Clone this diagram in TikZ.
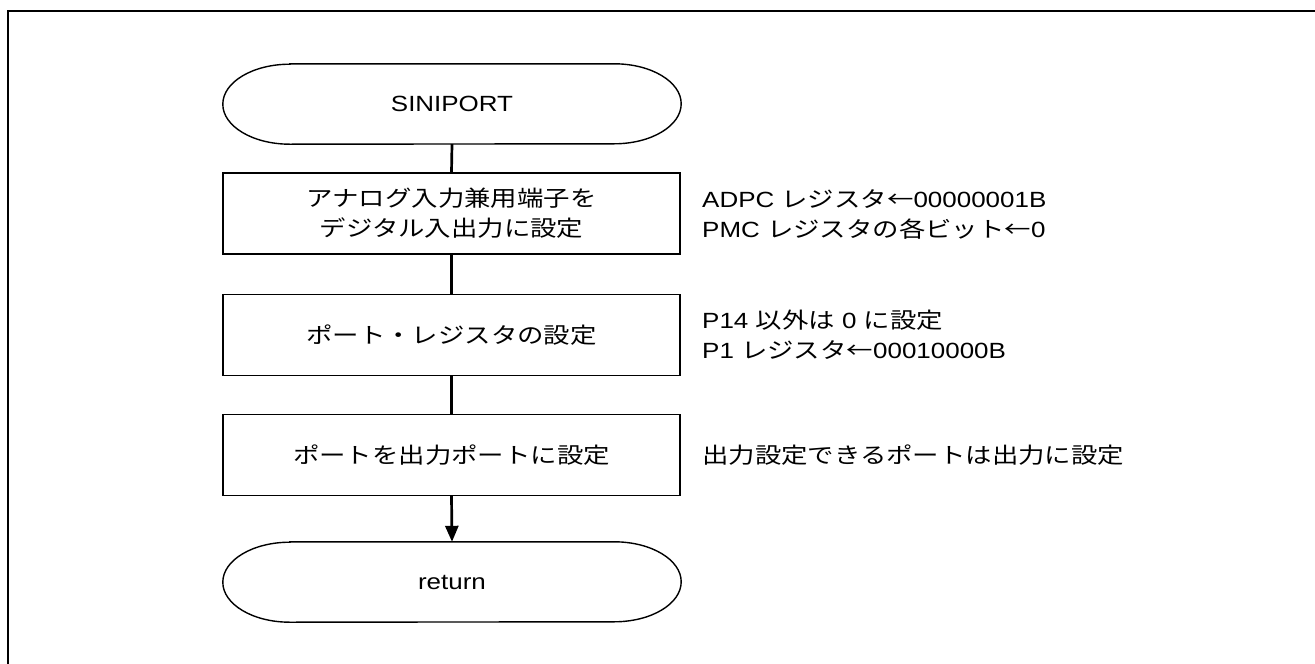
\documentclass[tikz,border=0pt]{standalone}
\usepackage{fontspec}
\setmainfont{Liberation Sans}[FakeStretch=1.18]
\newfontfamily\jp{Noto Sans CJK JP}[FakeStretch=1.2]
\newcommand\jpt[1]{{\jp #1}}
\usetikzlibrary{arrows.meta}
\begin{document}
\begin{tikzpicture}[x=1pt,y=-1pt,
  every node/.style={font=\fontsize{22}{30}\selectfont, inner sep=0pt},
  termnode/.style={minimum width=458pt, minimum height=80pt},
  stepbox/.style={draw, line width=1.4pt, minimum width=457pt, minimum height=81pt, align=center},
  note/.style={anchor=west, align=left},
  conn/.style={line width=2.7pt},
  outline/.style={line width=1.4pt}]
\useasboundingbox (0,0) rectangle (1315,664);
\draw[line width=2.4pt] (8,11) rectangle (1340,690);
% terminals
\node[termnode] (start) at (452,104) {SINIPORT};
\draw[outline] ([xshift=67pt]start.north west) -- ([xshift=-67pt]start.north east)
  arc[start angle=90, end angle=-90, x radius=67pt, y radius=40pt]
  -- ([xshift=67pt]start.south west)
  arc[start angle=270, end angle=90, x radius=67pt, y radius=40pt] -- cycle;
\node[stepbox] (b1) at (451.5,213.5) {\jpt{アナログ入力兼用端子を}\\\jpt{デジタル入出力に設定}};
\node[stepbox] (b2) at (451.5,335) {\jpt{ポート・レジスタの設定}};
\node[stepbox] (b3) at (451.5,455) {\jpt{ポートを出力ポートに設定}};
\node[termnode] (ret) at (452,582) {return};
\draw[outline] ([xshift=67pt]ret.north west) -- ([xshift=-67pt]ret.north east)
  arc[start angle=90, end angle=-90, x radius=67pt, y radius=40pt]
  -- ([xshift=67pt]ret.south west)
  arc[start angle=270, end angle=90, x radius=67pt, y radius=40pt] -- cycle;
% connectors
\draw[conn] (start.south) -- (b1.north);
\draw[conn] (b1.south) -- (b2.north);
\draw[conn] (b2.south) -- (b3.north);
\draw[conn, -{Triangle[length=16pt, width=13pt]}] (b3.south) -- (ret.north);
% notes
\node[note] (n1) at (702,214) {ADPC \jpt{レジスタ←}00000001B\\PMC \jpt{レジスタの各ビット←}0};
\node[note] (n2) at (702,335) {P14 \jpt{以外は} 0 \jpt{に設定}\\P1 \jpt{レジスタ←}00010000B};
\node[note] (n3) at (702,455) {\jpt{出力設定できるポートは出力に設定}};
\end{tikzpicture}
\end{document}
